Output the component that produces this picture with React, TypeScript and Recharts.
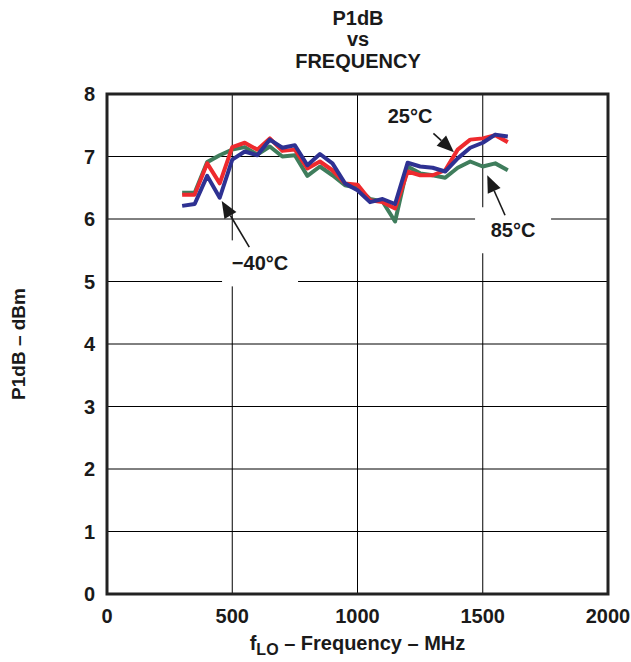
import React from "react";
import {
  LineChart,
  Line,
  XAxis,
  YAxis,
  CartesianGrid,
  ReferenceArea,
  ReferenceLine,
  ReferenceDot,
  Label,
} from "recharts";

const frequencies = [
  300, 350, 400, 450, 500, 550, 600, 650, 700, 750, 800, 850, 900, 950, 1000,
  1050, 1100, 1150, 1200, 1250, 1300, 1350, 1400, 1450, 1500, 1550, 1600,
];
const p1dbMinus40 = [
  6.21, 6.24, 6.69, 6.34, 6.95, 7.08, 7.02, 7.27, 7.14, 7.18, 6.86, 7.04, 6.89,
  6.57, 6.46, 6.27, 6.32, 6.24, 6.9, 6.84, 6.82, 6.76, 6.97, 7.14, 7.22, 7.35,
  7.32,
];
const p1db25 = [
  6.39, 6.39, 6.89, 6.57, 7.15, 7.22, 7.11, 7.29, 7.09, 7.11, 6.81, 6.92, 6.78,
  6.57, 6.55, 6.3, 6.27, 6.17, 6.76, 6.7, 6.7, 6.78, 7.11, 7.27, 7.29, 7.34,
  7.23,
];
const p1db85 = [
  6.42, 6.42, 6.91, 7.02, 7.11, 7.15, 7.03, 7.16, 7.0, 7.02, 6.69, 6.84, 6.7,
  6.54, 6.5, 6.32, 6.28, 5.96, 6.84, 6.73, 6.7, 6.66, 6.82, 6.92, 6.84, 6.89,
  6.78,
];
const xTicks = [0, 500, 1000, 1500, 2000];
const yTicks = [0, 1, 2, 3, 4, 5, 6, 7, 8];

// annotation labels: [text, x, y]
const annotationLabels: [string, number, number][] = [
  ["\u221240\u00b0C", 611, 5.29],
  ["25\u00b0C", 1210, 7.65],
  ["85\u00b0C", 1621, 5.82],
];
// arrows: tip (x,y) then tail (x,y)
const annotationArrows: [number, number, number, number][] = [
  [458, 6.29, 568, 5.55],
  [1385, 7.07, 1303, 7.37],
  [1518, 6.7, 1589, 6.06],
];

const data = frequencies.map((f, i) => ({
  f,
  m40: p1dbMinus40[i],
  t25: p1db25[i],
  t85: p1db85[i],
}));

const FONT = "'Liberation Sans', Arial, Helvetica, sans-serif";
const INK = "#1a1a1a";

const arrowShape = (p: any) => {
  const { x1, y1, x2, y2 } = p;
  const dx = x2 - x1;
  const dy = y2 - y1;
  const len = Math.hypot(dx, dy) || 1;
  const ux = dx / len;
  const uy = dy / len;
  const L = 17;
  const W = 7;
  const bx = x1 + ux * L;
  const by = y1 + uy * L;
  const pts = `${x1},${y1} ${bx - uy * W},${by + ux * W} ${bx + uy * W},${by - ux * W}`;
  return (
    <g>
      <line x1={bx} y1={by} x2={x2} y2={y2} stroke={INK} strokeWidth={1.6} />
      <polygon points={pts} fill={INK} />
    </g>
  );
};

const makeLabelShape = (text: string, boxH: number) => (p: any) => {
  const { cx, cy } = p;
  return (
    <g>
      <rect x={cx - 38} y={cy - boxH / 2} width={76} height={boxH} fill="#fff" />
      <text
        x={cx}
        y={cy + 7}
        textAnchor="middle"
        fontFamily={FONT}
        fontWeight="bold"
        fontSize={20}
        fill={INK}
      >
        {text}
      </text>
    </g>
  );
};

const XTitle = (props: any) => {
  const vb = props.viewBox || {};
  const cx = vb.x + vb.width / 2;
  return (
    <text
      x={cx}
      y={650}
      textAnchor="middle"
      fontFamily={FONT}
      fontWeight="bold"
      fontSize={20}
      fill={INK}
    >
      f
      <tspan dy={5} fontSize={16}>
        LO
      </tspan>
      <tspan dy={-5}>{" \u2013 Frequency \u2013 MHz"}</tspan>
    </text>
  );
};

const YTitle = (props: any) => {
  const vb = props.viewBox || {};
  const cy = vb.y + vb.height / 2;
  const x = 25;
  return (
    <text
      x={x}
      y={cy}
      transform={`rotate(-90 ${x} ${cy})`}
      textAnchor="middle"
      fontFamily={FONT}
      fontWeight="bold"
      fontSize={19}
      fill={INK}
    >
      {"P1dB \u2013 dBm"}
    </text>
  );
};

export default function App() {
  const tickStyle = {
    fontFamily: FONT,
    fontWeight: "bold",
    fontSize: 20,
    fill: INK,
  } as any;
  return (
    <div style={{ position: "absolute", left: 0, top: 0, width: 631, height: 662, background: "#fff" }}>
      <svg
        width={631}
        height={90}
        style={{ position: "absolute", left: 0, top: 0 }}
      >
        <g fontFamily={FONT} fontWeight="bold" fontSize={20} fill={INK} textAnchor="middle">
          <text x={358} y={25}>P1dB</text>
          <text x={358} y={46}>vs</text>
          <text x={358} y={68}>FREQUENCY</text>
        </g>
      </svg>
      <div style={{ position: "absolute", left: 0, top: 0 }}>
        <LineChart
          width={631}
          height={662}
          data={data}
          margin={{ top: 94, right: 23, bottom: 8, left: 47 }}
        >
          <CartesianGrid
            stroke="#000"
            strokeWidth={1}
            horizontalValues={yTicks}
            verticalValues={xTicks}
          />
          <XAxis
            dataKey="f"
            type="number"
            domain={[0, 2000]}
            ticks={xTicks}
            tickLine={false}
            axisLine={false}
            tickSize={0}
            tickMargin={15}
            height={60}
            tick={tickStyle}
            interval={0}
          >
            <Label content={<XTitle />} />
          </XAxis>
          <YAxis
            type="number"
            domain={[0, 8]}
            ticks={yTicks}
            tickLine={false}
            axisLine={false}
            tickSize={0}
            tickMargin={12}
            width={60}
            tick={tickStyle}
            interval={0}
          >
            <Label content={<YTitle />} />
          </YAxis>
          <ReferenceArea
            x1={0}
            x2={2000}
            y1={0}
            y2={8}
            fill="none"
            fillOpacity={0}
            stroke="#222"
            strokeWidth={3}
            ifOverflow="visible"
          />
          <Line
            type="linear"
            dataKey="t85"
            stroke="#3f7d5c"
            strokeWidth={4}
            dot={false}
            strokeLinejoin="round"
            isAnimationActive={false}
          />
          <Line
            type="linear"
            dataKey="t25"
            stroke="#ee2a2e"
            strokeWidth={4}
            dot={false}
            strokeLinejoin="round"
            isAnimationActive={false}
          />
          <Line
            type="linear"
            dataKey="m40"
            stroke="#2e3192"
            strokeWidth={4}
            dot={false}
            strokeLinejoin="round"
            isAnimationActive={false}
          />
          {annotationLabels.map(([t, x, y], i) => (
            <ReferenceDot
              key={"l" + i}
              x={x}
              y={y}
              ifOverflow="visible"
              zIndex={650}
              shape={makeLabelShape(t, i === 1 ? 34 : 46)}
            />
          ))}
          {annotationArrows.map(([tx, ty, ex, ey], i) => (
            <ReferenceLine
              key={"a" + i}
              segment={[
                { x: tx, y: ty },
                { x: ex, y: ey },
              ]}
              ifOverflow="visible"
              zIndex={700}
              shape={arrowShape}
            />
          ))}
        </LineChart>
      </div>
    </div>
  );
}
